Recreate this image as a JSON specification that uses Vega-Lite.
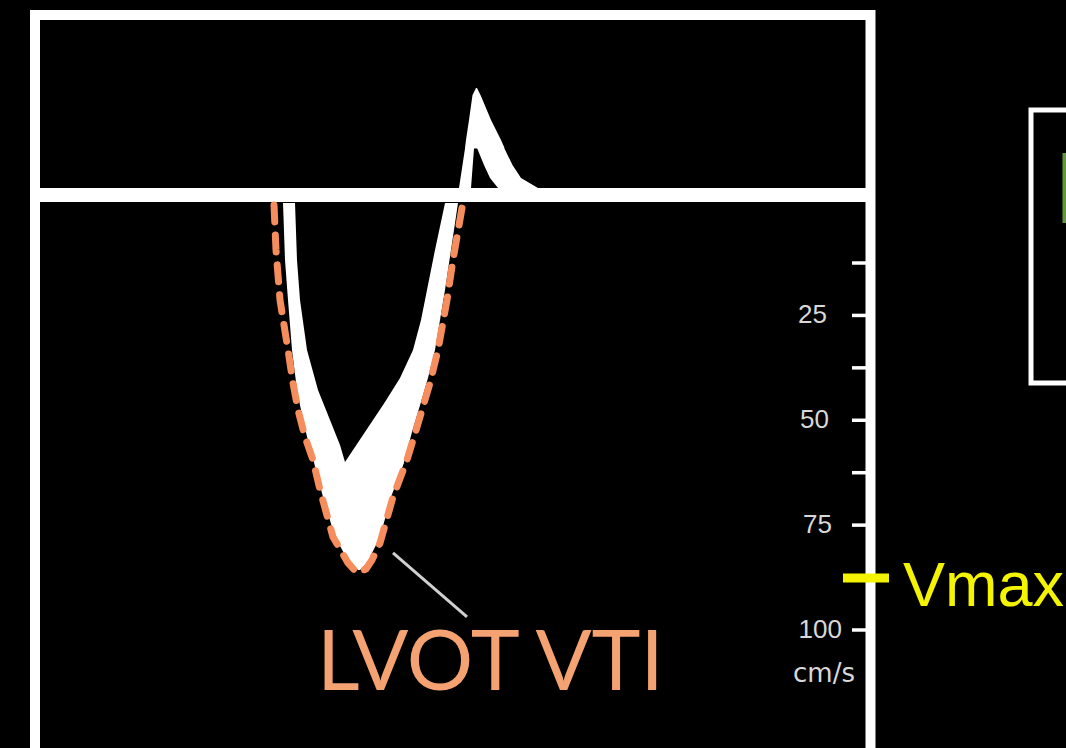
{
  "$schema": "https://vega.github.io/schema/vega-lite/v6.json",
  "width": 1066,
  "height": 748,
  "autosize": {"type": "none"},
  "padding": 0,
  "background": "black",
  "config": {"view": {"stroke": null}},
  "datasets": {
    "frame": [{"t": 35, "t2": 870.5, "v": -46.64, "v2": 133.38}],
    "sidebox": [{"t": 1031, "t2": 1130, "v": -23.99, "v2": 41.11}],
    "baseline": [{"t": 35, "t2": 870.5, "v": -3.72}],
    "ticks": [
      {"t": 852, "t2": 867, "v": 12.5},
      {"t": 852, "t2": 867, "v": 25},
      {"t": 852, "t2": 867, "v": 37.5},
      {"t": 852, "t2": 867, "v": 50},
      {"t": 852, "t2": 867, "v": 62.5},
      {"t": 852, "t2": 867, "v": 75},
      {"t": 852, "t2": 867, "v": 87.5},
      {"t": 852, "t2": 867, "v": 100}
    ],
    "ticklabels": [
      {"t": 827, "v": 25, "label": "25"},
      {"t": 829, "v": 50, "label": "50"},
      {"t": 832, "v": 75, "label": "75"},
      {"t": 842, "v": 100, "label": "100"}
    ],
    "unit": [{"t": 824, "v": 112.4, "label": "cm/s"}],
    "vmaxtick": [{"t": 843, "t2": 889, "v": 87.6}],
    "vmaxlabel": [{"t": 903, "v": 94.28, "label": "Vmax"}],
    "vtilabel": [{"t": 317, "v": 114.31, "label": "LVOT VTI"}],
    "greenbar": [{"t": 1064.5, "v": -13.73, "v2": 2.96}],
    "envelope": [
      {"part": "A", "v": -1.81, "t": 283, "t2": 295},
      {"part": "A", "v": 11.78, "t": 285, "t2": 297},
      {"part": "A", "v": 21.32, "t": 288, "t2": 300},
      {"part": "A", "v": 33.24, "t": 292, "t2": 307},
      {"part": "A", "v": 42.78, "t": 297, "t2": 318},
      {"part": "A", "v": 49.93, "t": 303, "t2": 330},
      {"part": "A", "v": 55.89, "t": 309, "t2": 340},
      {"part": "A", "v": 59.94, "t": 314, "t2": 345},
      {"part": "A", "v": 60.06, "t": 314, "t2": 404},
      {"part": "A", "v": 68.29, "t": 323, "t2": 391},
      {"part": "A", "v": 77.83, "t": 335, "t2": 380},
      {"part": "A", "v": 82.12, "t": 345, "t2": 371},
      {"part": "A", "v": 83.31, "t": 348, "t2": 369},
      {"part": "A", "v": 84.74, "t": 354, "t2": 364},
      {"part": "A", "v": 85.69, "t": 358, "t2": 360},
      {"part": "B", "v": -1.81, "t": 445, "t2": 458},
      {"part": "B", "v": 9.39, "t": 435, "t2": 451},
      {"part": "B", "v": 18.93, "t": 427, "t2": 445},
      {"part": "B", "v": 26.08, "t": 421, "t2": 440},
      {"part": "B", "v": 33.24, "t": 413, "t2": 435},
      {"part": "B", "v": 39.91, "t": 400, "t2": 428},
      {"part": "B", "v": 45.64, "t": 385, "t2": 421},
      {"part": "B", "v": 52.79, "t": 365, "t2": 412},
      {"part": "B", "v": 59.94, "t": 345, "t2": 404},
      {"part": "B", "v": 61.85, "t": 338, "t2": 401},
      {"part": "B", "v": 64.23, "t": 333, "t2": 398},
      {"part": "C", "v": -29.23, "t": 476, "t2": 477},
      {"part": "C", "v": -27.56, "t": 472.5, "t2": 480.5},
      {"part": "C", "v": -21.6, "t": 469, "t2": 491},
      {"part": "C", "v": -16.83, "t": 466, "t2": 501},
      {"part": "C", "v": -14.93, "t": 465, "t2": 504.5},
      {"part": "C", "v": -14.81, "t": 465, "t2": 474},
      {"part": "C", "v": -5.39, "t": 459, "t2": 471},
      {"part": "C", "v": -3.72, "t": 458, "t2": 470},
      {"part": "D", "v": -15.5, "t": 476, "t2": 503},
      {"part": "D", "v": -10.87, "t": 484, "t2": 512.5},
      {"part": "D", "v": -7.77, "t": 490, "t2": 521},
      {"part": "D", "v": -5.39, "t": 498, "t2": 538},
      {"part": "D", "v": -3.72, "t": 501, "t2": 545}
    ],
    "outline": [
      {"i": 0, "t": 274, "v": -1.34},
      {"i": 1, "t": 276, "v": 9.39},
      {"i": 2, "t": 280, "v": 21.32},
      {"i": 3, "t": 288, "v": 33.24},
      {"i": 4, "t": 293, "v": 41.11},
      {"i": 5, "t": 298, "v": 47.54},
      {"i": 6, "t": 305, "v": 53.98},
      {"i": 7, "t": 313, "v": 59.47},
      {"i": 8, "t": 320, "v": 66.62},
      {"i": 9, "t": 333, "v": 77.83},
      {"i": 10, "t": 348, "v": 84.02},
      {"i": 11, "t": 357, "v": 86.41},
      {"i": 12, "t": 366, "v": 85.46},
      {"i": 13, "t": 372, "v": 83.31},
      {"i": 14, "t": 380, "v": 79.26},
      {"i": 15, "t": 393, "v": 68.29},
      {"i": 16, "t": 407, "v": 59.47},
      {"i": 17, "t": 420, "v": 49.21},
      {"i": 18, "t": 430, "v": 41.11},
      {"i": 19, "t": 438, "v": 33.24},
      {"i": 20, "t": 447, "v": 21.32},
      {"i": 21, "t": 453, "v": 11.78},
      {"i": 22, "t": 462, "v": -0.62}
    ],
    "pointer": [
      {"i": 0, "t": 393, "v": 81.64},
      {"i": 1, "t": 467, "v": 96.9}
    ]
  },
  "encoding": {
    "x": {"field": "t", "type": "quantitative", "scale": {"domain": [0, 1066], "nice": false, "zero": false}, "axis": null},
    "y": {"field": "v", "type": "quantitative", "scale": {"domain": [-50.21, 128.14], "nice": false, "zero": false, "reverse": true}, "axis": null}
  },
  "layer": [
    {
      "data": {"name": "frame"},
      "mark": {"type": "rect", "filled": false, "stroke": "white", "strokeWidth": 10},
      "encoding": {"x2": {"field": "t2"}, "y2": {"field": "v2"}}
    },
    {
      "data": {"name": "sidebox"},
      "mark": {"type": "rect", "filled": false, "stroke": "white", "strokeWidth": 5},
      "encoding": {"x2": {"field": "t2"}, "y2": {"field": "v2"}}
    },
    {
      "data": {"name": "greenbar"},
      "mark": {"type": "rule", "color": "#5f9a3a", "strokeWidth": 4},
      "encoding": {"y2": {"field": "v2"}}
    },
    {
      "data": {"name": "envelope"},
      "mark": {"type": "area", "orient": "horizontal", "color": "white", "opacity": 1},
      "encoding": {"x2": {"field": "t2"}, "detail": {"field": "part"}}
    },
    {
      "data": {"name": "baseline"},
      "mark": {"type": "rule", "color": "white", "strokeWidth": 14},
      "encoding": {"x2": {"field": "t2"}}
    },
    {
      "data": {"name": "outline"},
      "mark": {"type": "line", "color": "#F68D5C", "strokeWidth": 7, "strokeDash": [17, 13], "strokeCap": "round", "strokeJoin": "round"},
      "encoding": {"order": {"field": "i", "type": "quantitative"}}
    },
    {
      "data": {"name": "pointer"},
      "mark": {"type": "line", "color": "#d0d0d0", "strokeWidth": 3},
      "encoding": {"order": {"field": "i", "type": "quantitative"}}
    },
    {
      "data": {"name": "ticks"},
      "mark": {"type": "rule", "color": "white", "strokeWidth": 3.5},
      "encoding": {"x2": {"field": "t2"}}
    },
    {
      "data": {"name": "ticklabels"},
      "mark": {"type": "text", "align": "right", "baseline": "middle", "font": "Liberation Sans", "fontSize": 26, "color": "#d8d8d8"},
      "encoding": {"text": {"field": "label"}}
    },
    {
      "data": {"name": "unit"},
      "mark": {"type": "text", "align": "center", "baseline": "alphabetic", "font": "DejaVu Sans", "fontSize": 26, "color": "#d8d8d8"},
      "encoding": {"text": {"field": "label"}}
    },
    {
      "data": {"name": "vmaxtick"},
      "mark": {"type": "rule", "color": "#F4F400", "strokeWidth": 9},
      "encoding": {"x2": {"field": "t2"}}
    },
    {
      "data": {"name": "vmaxlabel"},
      "mark": {"type": "text", "align": "left", "baseline": "alphabetic", "font": "Liberation Sans", "fontSize": 63, "color": "#F4F400"},
      "encoding": {"text": {"field": "label"}}
    },
    {
      "data": {"name": "vtilabel"},
      "mark": {"type": "text", "align": "left", "baseline": "alphabetic", "font": "Lato", "fontSize": 83, "color": "#F4A271"},
      "encoding": {"text": {"field": "label"}}
    }
  ]
}
